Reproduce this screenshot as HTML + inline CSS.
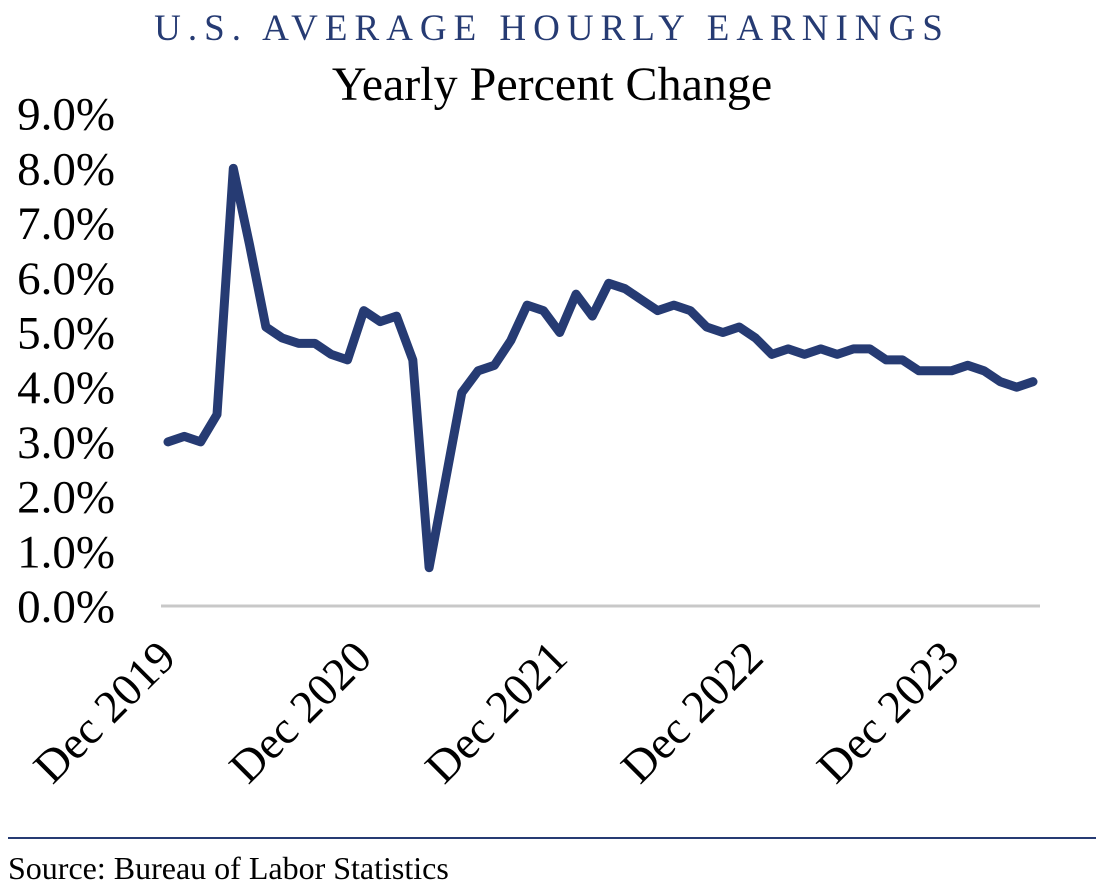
<!DOCTYPE html>
<html><head><meta charset="utf-8">
<style>
body{margin:0;background:#fff;}
svg{display:block;font-family:"Liberation Serif",serif;}
</style></head>
<body>
<svg width="1104" height="896" viewBox="0 0 1104 896">
<text x="552" y="40" text-anchor="middle" font-size="37" fill="#263b73" letter-spacing="7">U.S. AVERAGE HOURLY EARNINGS</text>
<text x="552" y="100" text-anchor="middle" font-size="48" fill="#000">Yearly Percent Change</text>
<g id="yaxis"></g>
<line x1="161" y1="606" x2="1040" y2="606" stroke="#c8c8c8" stroke-width="3"/>
<g id="xaxis"></g>
<path id="series" fill="none" stroke="#263b73" stroke-width="9" stroke-linejoin="round" stroke-linecap="round"/>
<line x1="8" y1="838" x2="1096" y2="838" stroke="#263b73" stroke-width="2"/>
<text x="8" y="879" font-size="32" fill="#000">Source: Bureau of Labor Statistics</text>
</svg>
<script>
const yTicks=[0,1,2,3,4,5,6,7,8,9];
const yTickLabels=["0.0%","1.0%","2.0%","3.0%","4.0%","5.0%","6.0%","7.0%","8.0%","9.0%"];
const xTickIndices=[0,12,24,36,48];
const xTickLabels=["Dec 2019","Dec 2020","Dec 2021","Dec 2022","Dec 2023"];
const values=[3.0,3.1,3.0,3.5,8.0,6.6,5.1,4.9,4.8,4.8,4.6,4.5,5.4,5.2,5.3,4.5,0.7,2.3,3.9,4.3,4.4,4.85,5.5,5.4,5.0,5.7,5.3,5.9,5.8,5.6,5.4,5.5,5.4,5.1,5.0,5.1,4.9,4.6,4.7,4.6,4.7,4.6,4.7,4.7,4.5,4.5,4.3,4.3,4.3,4.4,4.3,4.1,4.0,4.1];
const NS="http://www.w3.org/2000/svg";
function yScale(v){return 606-v*54.7;}
function xScale(i){return 168+i*(1033-168)/53;}
const ya=document.getElementById('yaxis');
yTicks.forEach((t,k)=>{
  const el=document.createElementNS(NS,'text');
  el.setAttribute('x',115);el.setAttribute('y',yScale(t)+16);
  el.setAttribute('text-anchor','end');el.setAttribute('font-size','47');
  el.textContent=yTickLabels[k];
  
  
  ya.appendChild(el);
});
const xa=document.getElementById('xaxis');
xTickIndices.forEach((idx,k)=>{
  const x=xScale(idx)+10, y=660;
  const el=document.createElementNS(NS,'text');
  el.setAttribute('x',x);el.setAttribute('y',y);
  el.setAttribute('text-anchor','end');el.setAttribute('font-size','46');
  el.setAttribute('transform','rotate(-45 '+x+' '+y+')');
  el.textContent=xTickLabels[k];
  
  
  xa.appendChild(el);
});
document.getElementById('series').setAttribute('d',values.map((v,i)=>(i?'L':'M')+xScale(i).toFixed(1)+' '+yScale(v).toFixed(1)).join(' '));
</script>
</body></html>
